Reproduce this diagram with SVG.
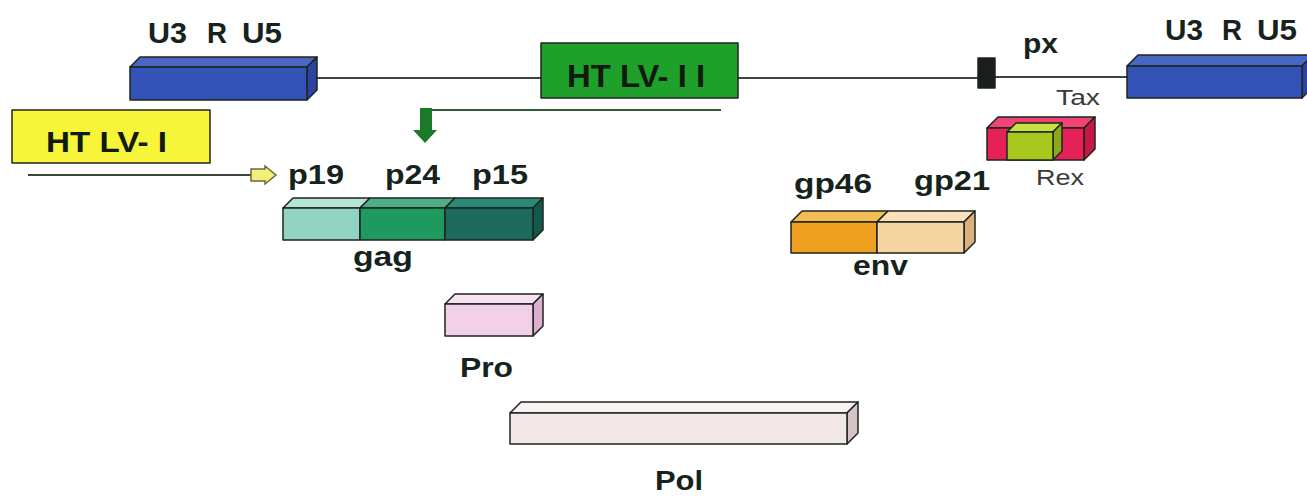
<svg xmlns="http://www.w3.org/2000/svg" width="1307" height="497" viewBox="0 0 1307 497">
<style>
.b{font-family:"Liberation Sans",Arial,sans-serif;font-weight:bold;fill:#15231c}
.r{font-family:"Liberation Sans",Arial,sans-serif;fill:#3a3a3a}
.box rect,.box polygon{stroke:#1e2420;stroke-width:1.5;stroke-linejoin:round}
.ln{stroke:#3c4440;stroke-width:2;fill:none}
</style>
<rect width="1307" height="497" fill="#ffffff"/>
<g id="connectors">
<line class="ln" x1="317" y1="78" x2="541" y2="78"/>
<line class="ln" x1="738" y1="78" x2="978" y2="78"/>
<line class="ln" x1="995" y1="77" x2="1127" y2="77"/>
<line x1="426" y1="110" x2="721" y2="110" stroke="#2f5a38" stroke-width="2"/>
<line class="ln" x1="28" y1="175" x2="251" y2="175"/>
<polygon points="251,169 265,169 265,166 276,175 265,184 265,181 251,181" fill="#f2f07a" stroke="#6a6a40" stroke-width="1.5"/>
<polygon points="420,108 432,108 432,130 437,130 425,143 413,130 420,130" fill="#1a7a2a"/>
</g>
<g id="ltr-left" class="box">
<polygon points="130,67 140,57 317,57 307,67" fill="#4a66c4"/>
<polygon points="307,67 317,57 317,90 307,100" fill="#2a44a0"/>
<rect x="130" y="67" width="177" height="33" fill="#3352b6"/>
<text class="b" x="148" y="43" font-size="29" textLength="39" lengthAdjust="spacingAndGlyphs">U3</text>
<text class="b" x="207" y="43" font-size="29" textLength="20" lengthAdjust="spacingAndGlyphs">R</text>
<text class="b" x="242" y="43" font-size="29" textLength="40" lengthAdjust="spacingAndGlyphs">U5</text>
</g>
<g id="htlv2" class="box">
<rect x="541" y="43" width="197" height="55" fill="#1fa02a"/>
<text class="b" x="567" y="87" font-size="32" textLength="138" lengthAdjust="spacingAndGlyphs" style="fill:#101a10">HT LV- I I</text>
</g>
<g id="px" class="box">
<rect x="978" y="58" width="17" height="30" fill="#1a1f1c"/>
<text class="b" x="1023" y="53" font-size="27" textLength="35" lengthAdjust="spacingAndGlyphs">px</text>
</g>
<g id="ltr-right" class="box">
<polygon points="1127,66 1138,55 1313,55 1302,66" fill="#4a66c4"/>
<polygon points="1302,66 1313,55 1313,87 1302,98" fill="#2a44a0"/>
<rect x="1127" y="66" width="175" height="32" fill="#3352b6"/>
<text class="b" x="1165" y="40" font-size="29" textLength="38" lengthAdjust="spacingAndGlyphs">U3</text>
<text class="b" x="1222" y="40" font-size="29" textLength="20" lengthAdjust="spacingAndGlyphs">R</text>
<text class="b" x="1257" y="40" font-size="29" textLength="40" lengthAdjust="spacingAndGlyphs">U5</text>
</g>
<g id="tax-rex" class="box">
<polygon points="987,128 998,117 1095,117 1084,128" fill="#f04474"/>
<polygon points="1084,128 1095,117 1095,149 1084,160" fill="#c81848"/>
<rect x="987" y="128" width="97" height="32" fill="#e62158"/>
<polygon points="1007,132 1016,123 1062,123 1053,132" fill="#c8e040"/>
<polygon points="1053,132 1062,123 1062,151 1053,160" fill="#8aa818"/>
<rect x="1007" y="132" width="46" height="28" fill="#a8c81e"/>
<text class="r" x="1056" y="105" font-size="22" textLength="44" lengthAdjust="spacingAndGlyphs">Tax</text>
<text class="r" x="1036" y="185" font-size="22" textLength="48" lengthAdjust="spacingAndGlyphs">Rex</text>
</g>
<g id="htlv1" class="box">
<rect x="12" y="110" width="198" height="53" fill="#f7f53a"/>
<text class="b" x="46" y="152" font-size="30" textLength="121" lengthAdjust="spacingAndGlyphs" style="fill:#101a10">HT LV- I</text>
</g>
<g id="gag" class="box">
<polygon points="283,208 293,198 370,198 360,208" fill="#b4e4d8"/>
<polygon points="360,208 370,198 455,198 445,208" fill="#4eae84"/>
<polygon points="445,208 455,198 543,198 533,208" fill="#2a8a7a"/>
<polygon points="533,208 543,198 543,230 533,240" fill="#145a4c"/>
<rect x="283" y="208" width="77" height="32" fill="#92d4c4"/>
<rect x="360" y="208" width="85" height="32" fill="#1f9a5e"/>
<rect x="445" y="208" width="88" height="32" fill="#1b6a5c"/>
<text class="b" x="288" y="184" font-size="27" textLength="56" lengthAdjust="spacingAndGlyphs">p19</text>
<text class="b" x="385" y="184" font-size="27" textLength="55" lengthAdjust="spacingAndGlyphs">p24</text>
<text class="b" x="472" y="184" font-size="27" textLength="56" lengthAdjust="spacingAndGlyphs">p15</text>
<text class="b" x="353" y="266" font-size="27" textLength="60" lengthAdjust="spacingAndGlyphs">gag</text>
</g>
<g id="env" class="box">
<polygon points="791,222 802,211 888,211 877,222" fill="#f4bc54"/>
<polygon points="877,222 888,211 975,211 964,222" fill="#f8e2bc"/>
<polygon points="964,222 975,211 975,242 964,253" fill="#dcb07a"/>
<rect x="791" y="222" width="86" height="31" fill="#f0a020"/>
<rect x="877" y="222" width="87" height="31" fill="#f5d5a2"/>
<text class="b" x="794" y="193" font-size="27" textLength="78" lengthAdjust="spacingAndGlyphs">gp46</text>
<text class="b" x="914" y="190" font-size="27" textLength="76" lengthAdjust="spacingAndGlyphs">gp21</text>
<text class="b" x="853" y="275" font-size="27" textLength="55" lengthAdjust="spacingAndGlyphs">env</text>
</g>
<g id="pro" class="box">
<polygon points="445,304 455,294 543,294 533,304" fill="#f8e2f0"/>
<polygon points="533,304 543,294 543,326 533,336" fill="#dcaed0"/>
<rect x="445" y="304" width="88" height="32" fill="#f2d0e8"/>
<text class="b" x="460" y="377" font-size="27" textLength="53" lengthAdjust="spacingAndGlyphs">Pro</text>
</g>
<g id="pol" class="box">
<polygon points="510,413 521,402 858,402 847,413" fill="#f8f2f2"/>
<polygon points="847,413 858,402 858,433 847,444" fill="#d4c4c6"/>
<rect x="510" y="413" width="337" height="31" fill="#f2e8e8"/>
<text class="b" x="655" y="490" font-size="27" textLength="48" lengthAdjust="spacingAndGlyphs">Pol</text>
</g>
</svg>
